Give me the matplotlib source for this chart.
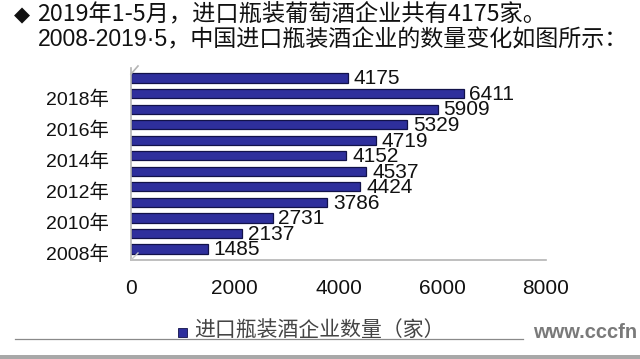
import matplotlib
matplotlib.use("Agg")
import matplotlib.pyplot as plt
from matplotlib.transforms import ScaledTranslation
from matplotlib.lines import Line2D
from matplotlib.patches import Rectangle

plt.rcParams['font.family'] = ['Liberation Sans', 'Noto Sans CJK SC', 'DejaVu Sans']

# data
years = ["2008年", "2009年", "2010年", "2011年", "2012年", "2013年",
         "2014年", "2015年", "2016年", "2017年", "2018年", "2019年"]
counts = [1485, 2137, 2731, 3786, 4424, 4537, 4152, 4719, 5329, 5909, 6411, 4175]
xticks = [0, 2000, 4000, 6000, 8000]
title1 = "2019年1-5月，进口瓶装葡萄酒企业共有4175家。"
title2 = "2008-2019·5，中国进口瓶装酒企业的数量变化如图所示："
legend_label = "进口瓶装酒企业数量（家）"

W, H = 640, 359
fig = plt.figure(figsize=(6.4, 3.59), dpi=100)
ax = fig.add_axes([131 / W, (H - 260) / H, 415 / W, 192 / H])

pos = list(range(len(years)))
ax.barh(pos, counts, height=0.6, color="#2e2f9c", edgecolor="#12124a", linewidth=0.9)

for y, v in zip(pos, counts):
    ax.text(v + 110, y - 0.05, str(v), va="center", ha="left", fontsize=15, color="#111111")

ax.set_xlim(0, 8000)
ax.set_ylim(-0.71, 11.65)
ax.set_xticks(xticks)
ax.set_xticklabels([str(t) for t in xticks], fontsize=15, color="#111111")
ax.set_yticks(pos[::2])
ax.set_yticklabels(years[::2], fontsize=14, color="#111111")
ax.tick_params(axis="x", length=0, pad=14)
ax.tick_params(axis="y", length=0, pad=16)
for lab in ax.get_yticklabels():
    lab.set_transform(lab.get_transform() + ScaledTranslation(0, -4 / 100, fig.dpi_scale_trans))

for s in ["top", "right"]:
    ax.spines[s].set_visible(False)
for s in ["left", "bottom"]:
    ax.spines[s].set_color("#b4b4b4")
    ax.spines[s].set_linewidth(1.2)

# 3D wall edges
fig.add_artist(Line2D([131 / W, 138 / W], [(H - 74) / H, (H - 66) / H], color="#b4b4b4", lw=1.2))
fig.add_artist(Line2D([131 / W, 138 / W], [(H - 260) / H, (H - 253) / H], color="#c8c8c8", lw=1.0))

# titles
fig.text(14 / W, 1 - 15 / H, "◆", fontsize=15, va="center", ha="left", color="#111111",
         family=["DejaVu Sans"])
fig.text(37 / W, 1 - 15 / H, title1, fontsize=16.75, va="center", ha="left", color="#111111",
         family=["Noto Sans CJK SC", "DejaVu Sans"])
fig.text(38 / W, 1 - 40 / H, title2, fontsize=16.6, va="center", ha="left", color="#111111",
         family=["Liberation Sans", "Noto Sans CJK SC", "DejaVu Sans"])

# legend
fig.add_artist(Line2D([15 / W, 523 / W], [1 - 339 / H, 1 - 339 / H], color="#8a8a8a", lw=0.9))
fig.add_artist(Rectangle((178 / W, 1 - 337 / H), 9 / W, 9 / H, facecolor="#2e2f9c",
                         edgecolor="#12124a", lw=0.6, transform=fig.transFigure))
fig.text(194 / W, 1 - 330 / H, legend_label, fontsize=15, va="center", ha="left",
         color="#444444", family=["Noto Sans CJK SC", "DejaVu Sans"])

# watermark and bottom bar
fig.text(533 / W, 1 - 333 / H, "www.cccfn", fontsize=14.5, fontweight="bold", va="center",
         ha="left", color="#7a7a7a", family=["Liberation Sans"])
fig.add_artist(Rectangle((0, 0), 1, 4 / H, facecolor="#a8a8a8", edgecolor="none",
                         transform=fig.transFigure))

fig.savefig("out.png", dpi=100)
